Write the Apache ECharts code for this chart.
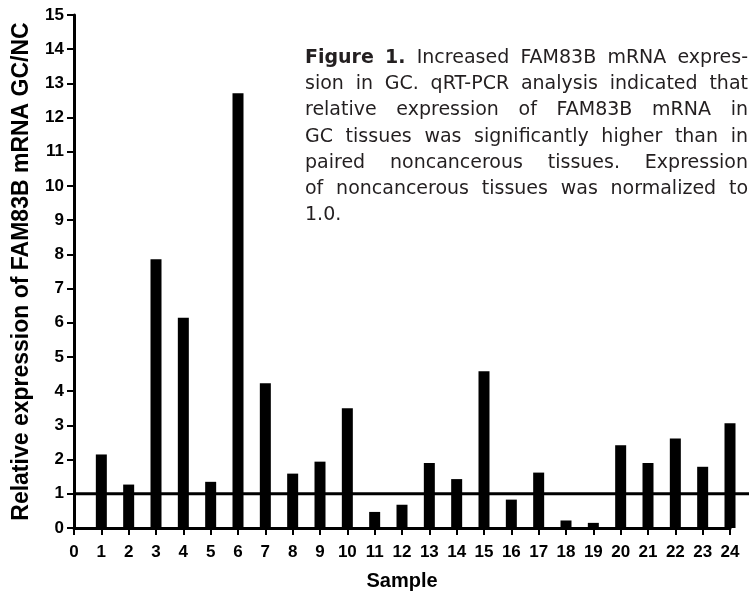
<!DOCTYPE html>
<html>
<head>
<meta charset="utf-8">
<script src="https://cdn.jsdelivr.net/npm/echarts@6/dist/echarts.min.js"></script>
<style>html,body{margin:0;padding:0;background:#fff}#c{width:749px;height:596px}</style>
</head>
<body>
<div id="c"></div>
<script>
const samples = [1,2,3,4,5,6,7,8,9,10,11,12,13,14,15,16,17,18,19,20,21,22,23,24];
const expression = [2.15,1.27,7.86,6.15,1.35,12.71,4.23,1.59,1.94,3.50,0.47,0.68,1.90,1.43,4.58,0.83,1.62,0.22,0.15,2.42,1.90,2.62,1.79,3.06];
const referenceLevel = 1;
const yAxisTitle = 'Relative expression of FAM83B mRNA GC/NC';
const xAxisTitle = 'Sample';
const captionLines = [
  'Figure 1. Increased FAM83B mRNA expres-',
  'sion in GC. qRT-PCR analysis indicated that',
  'relative expression of FAM83B mRNA in',
  'GC tissues was significantly higher than in',
  'paired noncancerous tissues. Expression',
  'of noncancerous tissues was normalized to',
  '1.0.'
];
const captionBoldWords = 2;

const chart = echarts.init(document.getElementById('c'), null, {renderer:'canvas'});
const axisFont = 'Liberation Sans, Arial, sans-serif';
const capFont = 'DejaVu Sans';
const capSize = 19;

// justified caption built word by word
const ctx = document.createElement('canvas').getContext('2d');
const capLeft = 305, capRight = 748, capTop0 = 60, capLH = 26.2;
const graphics = [];
captionLines.forEach((line, li) => {
  const words = line.split(' ');
  const widths = words.map((w, wi) => {
    const bold = li === 0 && wi < captionBoldWords;
    ctx.font = (bold ? 'bold ' : '') + capSize + 'px ' + capFont;
    return ctx.measureText(w).width;
  });
  const total = widths.reduce((a, b) => a + b, 0);
  const last = li === captionLines.length - 1;
  ctx.font = capSize + 'px ' + capFont;
  const spaceW = ctx.measureText(' ').width;
  let gap = last ? spaceW : (capRight - capLeft - total) / (words.length - 1);
  if (gap < spaceW * 0.7) { gap = spaceW * 0.7; }
  let x = capLeft;
  words.forEach((w, wi) => {
    const bold = li === 0 && wi < captionBoldWords;
    graphics.push({
      type: 'text', left: x, top: capTop0 + li * capLH - capSize / 2 - 2,
      style: { text: w, font: (bold ? 'bold ' : '') + capSize + 'px ' + capFont, fill: '#231f20' }
    });
    x += widths[wi] + gap;
  });
});

chart.setOption({
  animation: false,
  backgroundColor: '#fff',
  graphic: graphics,
  grid: [
    { left: 74, right: 19, top: 15, bottom: 68, containLabel: false },
    { left: 74, right: 0, top: 15, bottom: 68, containLabel: false }
  ],
  xAxis: [
    {
      type: 'value', gridIndex: 0, min: 0, max: 24, interval: 1,
      name: xAxisTitle, nameLocation: 'middle', nameGap: 43,
      nameTextStyle: { fontFamily: axisFont, fontWeight: 'bold', fontSize: 20, color: '#000' },
      axisLine: { show: true, onZero: false, lineStyle: { color: '#000', width: 3 } },
      axisTick: { show: true, length: 7, lineStyle: { color: '#000', width: 2 } },
      axisLabel: { fontFamily: axisFont, fontWeight: 'bold', fontSize: 17, color: '#000', margin: 16 },
      splitLine: { show: false }
    },
    { type: 'value', gridIndex: 1, min: 0, max: 1, show: false }
  ],
  yAxis: [
    {
      type: 'value', gridIndex: 0, min: 0, max: 15, interval: 1,
      name: yAxisTitle, nameLocation: 'middle', nameGap: 41,
      nameTextStyle: { fontFamily: axisFont, fontWeight: 'bold', fontSize: 23, color: '#000' },
      axisLine: { show: true, onZero: false, lineStyle: { color: '#000', width: 3 } },
      axisTick: { show: true, length: 7, lineStyle: { color: '#000', width: 2 } },
      axisLabel: { fontFamily: axisFont, fontWeight: 'bold', fontSize: 17, color: '#000', margin: 10 },
      splitLine: { show: false }
    },
    { type: 'value', gridIndex: 1, min: 0, max: 15, show: false }
  ],
  series: [
    {
      type: 'bar', xAxisIndex: 0, yAxisIndex: 0, barWidth: 11,
      itemStyle: { color: '#000' },
      data: samples.map((s, i) => [s, expression[i]])
    },
    {
      type: 'line', xAxisIndex: 1, yAxisIndex: 1, symbol: 'none', silent: true,
      lineStyle: { color: '#000', width: 3 },
      data: [[0, referenceLevel], [1, referenceLevel]]
    }
  ]
});
</script>
</body>
</html>
